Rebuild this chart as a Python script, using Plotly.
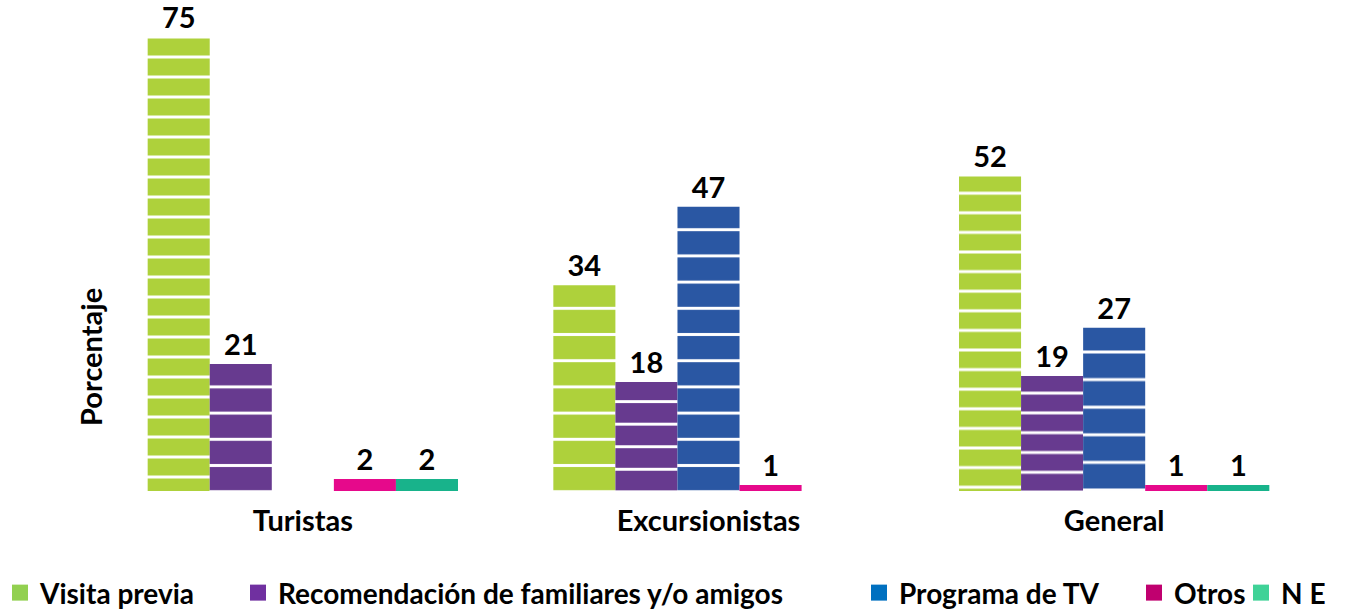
import plotly.graph_objects as go

categories = ["Turistas", "Excursionistas", "General"]
series_names = ["Visita previa", "Recomendación de familiares y/o amigos",
                "Programa de TV", "Otros", "N E"]
visita_previa = [75, 34, 52]
recomendacion = [21, 18, 19]
programa_tv = [None, 47, 27]
otros = [2, 1, 1]
ne = [2, None, 1]

values = [visita_previa, recomendacion, programa_tv, otros, ne]
bar_colors = ["#AED13B", "#673A8F", "#2A57A3", "#E6098B", "#18B38B"]
legend_colors = ["#92D050", "#7030A0", "#0070C0", "#C0006F", "#3FD297"]
# stripe spacing (px) per bar, styling only
stripe_sizes = [[20, 26.2, 19.6], [26.2, 22.55, 19.8], [26, 26.2, 27.6], [20, 20, 20], [20, 20, 20]]
legend_x_px = [-4, 238, 859, 1134, 1241]

FONT = "Lato, 'Open Sans', sans-serif"

fig = go.Figure()
for i, (name, vals) in enumerate(zip(series_names, values)):
    shapes = [("-" if (v is not None and v > 5) else "") for v in vals]
    sizes = stripe_sizes[i]
    fig.add_trace(go.Bar(
        x=categories, y=vals, name=name, showlegend=False,
        marker=dict(color=bar_colors[i], line=dict(width=0),
                    pattern=dict(shape=shapes, fgcolor="white", bgcolor=bar_colors[i],
                                 fillmode="replace", size=sizes,
                                 solidity=[3.0 / s for s in sizes])),
        text=[("" if v is None else str(v)) for v in vals],
        textposition="outside", cliponaxis=False,
        textfont=dict(family=FONT, size=29, color="black", weight="bold"),
    ))
    lg = "legend" if i == 0 else f"legend{i+1}"
    fig.add_trace(go.Scatter(
        x=[None], y=[None], mode="markers", name=name, legend=lg,
        marker=dict(symbol="square", size=16, color=legend_colors[i]),
        showlegend=True,
    ))

legend_common = dict(orientation="h", xref="container", yref="container",
                     yanchor="middle", y=0.028, xanchor="left",
                     font=dict(family=FONT, size=28, color="black", weight="bold"),
                     bgcolor="rgba(0,0,0,0)", borderwidth=0)
layout_legends = {}
for i in range(5):
    key = "legend" if i == 0 else f"legend{i+1}"
    layout_legends[key] = dict(legend_common, x=legend_x_px[i] / 1355)

fig.update_layout(
    width=1355, height=610,
    paper_bgcolor="white", plot_bgcolor="white",
    barmode="group", bargap=0.235, bargroupgap=0,
    margin=dict(l=100, r=38, t=7, b=119, autoexpand=False),
    font=dict(family=FONT, color="black"),
    xaxis=dict(showline=False, showgrid=False, zeroline=False, ticks="", automargin=False,
               tickfont=dict(family=FONT, size=29, color="black", weight="bold"),
               ticklabelstandoff=10),
    yaxis=dict(range=[0, 80], showticklabels=False, showgrid=False, zeroline=False,
               showline=False, ticks="", automargin=False),
    annotations=[dict(text="Porcentaje", xref="paper", yref="paper",
                      x=-0.0074, y=0.277, xanchor="center", yanchor="middle",
                      textangle=-90, showarrow=False,
                      font=dict(family=FONT, size=29, color="black", weight="bold"))],
    **layout_legends,
)

fig.write_html("out.html", config={"displayModeBar": False},
               post_script="document.body.style.margin='0';")
